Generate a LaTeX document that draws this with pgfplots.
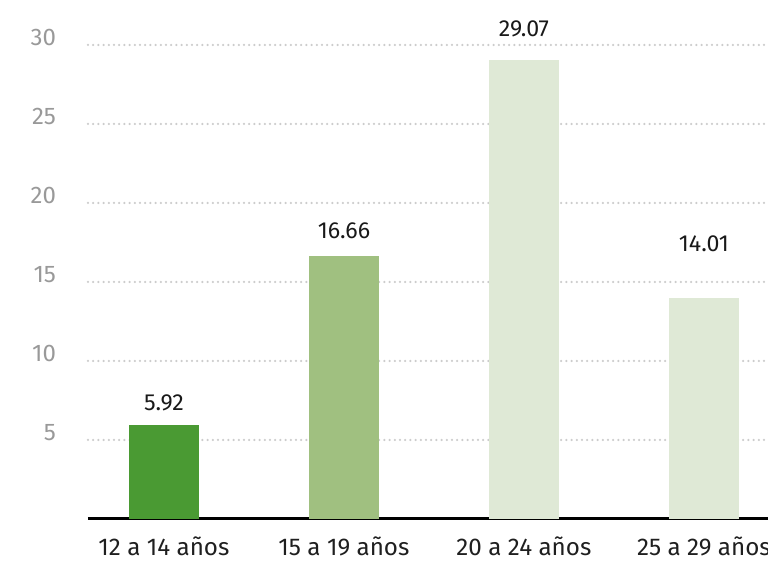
\documentclass[border=0pt]{standalone}
\usepackage{fontspec}
\setmainfont{Fira Sans}
\usepackage{pgfplots}
\pgfplotsset{compat=1.18}
\definecolor{g1}{HTML}{4A9A33}
\definecolor{g2}{HTML}{A0C080}
\definecolor{g3}{HTML}{DFE9D6}
\definecolor{tickgray}{HTML}{999999}
\definecolor{gridgray}{HTML}{CCCCCC}
\begin{document}
\begin{tikzpicture}
\begin{axis}[
  name=ax,
  width=340pt, height=237pt, scale only axis,
  xmin=-0.422, xmax=3.356, ymin=0, ymax=30,
  clip=false,
  axis x line=bottom, axis y line=left,
  x axis line style={black, line width=1.5pt, -},
  y axis line style={draw=none},
  major tick length=0pt,
  xtick={0,1,2,3},
  xticklabels={12 a 14 años, 15 a 19 años, 20 a 24 años, 25 a 29 años},
  ytick={5,10,...,30},
  ymajorgrids,
  grid style={draw=gridgray, line width=1.25pt, dash pattern=on 0pt off 2.6pt, line cap=round},
  /pgf/number format/assume math mode=true,
  xticklabel style={font=\fontsize{12.1}{14}\selectfont, text=black!88, yshift=-5.5pt},
  yticklabel style={font=\fontsize{12}{14}\selectfont, text=tickgray, anchor=east, xshift=-12.5pt, yshift=3.5pt},
]
\addplot[ybar, bar width=35pt, bar shift=0pt, fill=g1, draw=none] coordinates {(0,5.92)};
\addplot[ybar, bar width=35pt, bar shift=0pt, fill=g2, draw=none] coordinates {(1,16.66)};
\addplot[ybar, bar width=35pt, bar shift=0pt, fill=g3, draw=none] coordinates {(2,29.07)};
\addplot[ybar, bar width=35pt, bar shift=0pt, fill=g3, draw=none] coordinates {(3,14.01)};
\addplot[draw=none, mark=none, nodes near coords, point meta=explicit symbolic,
  nodes near coords align={center},
  every node near coord/.append style={font=\fontsize{11.6}{14}\selectfont, text=black!90}]
  table[meta=label] {
x y label
0 7.34 5.92
1 18.23 16.66
2 31.0 29.07
3 17.4 14.01
};
\end{axis}
\pgfresetboundingbox
\path[use as bounding box] ([shift={(-44pt,-21pt)}]ax.south west) rectangle ([yshift=22.5pt]ax.north east);
\end{tikzpicture}
\end{document}
